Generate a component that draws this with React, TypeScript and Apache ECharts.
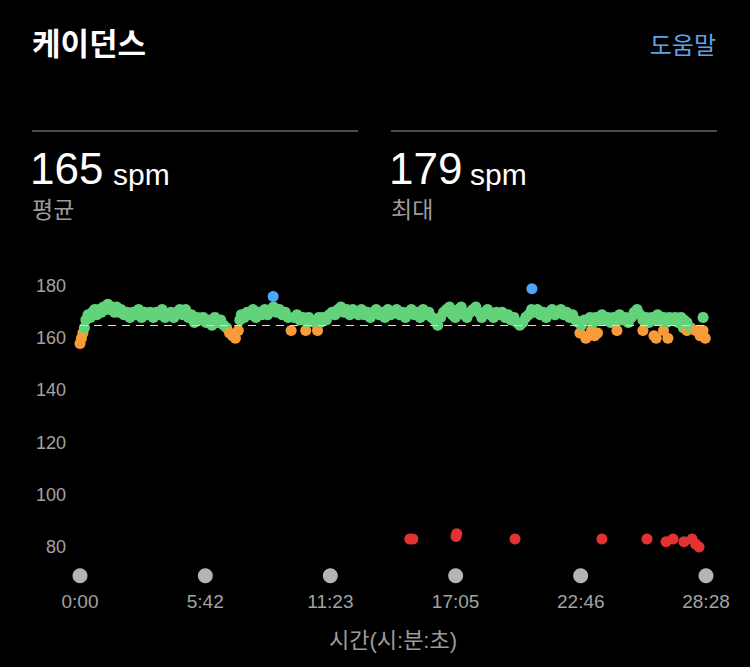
import React, { useEffect, useRef } from "react";
import * as echarts from "echarts";

// ---- Data (seconds elapsed, cadence in spm) ----
const cadenceSamples: [number, number][] = [
  [0, 158], [4, 160], [8, 162], [12, 164], [16, 167], [22, 169], [28, 168], [34, 170], [40, 171], [46, 169],
  [52, 171], [58, 170], [64, 172], [70, 171], [76, 173], [82, 171], [88, 172], [94, 170], [100, 172], [106, 170],
  [112, 171], [120, 169], [128, 170], [136, 168], [144, 170], [152, 169], [160, 171], [168, 168], [176, 170],
  [184, 169], [192, 170], [200, 168], [208, 170], [216, 169], [224, 171], [232, 168], [240, 169], [248, 170],
  [256, 168], [264, 170], [272, 171], [280, 169], [288, 171], [296, 168],
  [304, 169], [312, 166], [320, 168], [328, 167], [336, 168], [344, 166], [352, 167], [360, 165], [368, 168],
  [376, 166], [384, 167], [392, 165],
  [400, 164], [408, 162], [416, 161], [424, 160], [432, 163],
  [436, 167], [440, 169], [448, 168], [456, 170], [464, 169], [472, 171], [480, 168], [488, 170], [496, 169],
  [504, 171], [512, 169], [520, 171], [528, 172], [536, 170], [544, 171], [552, 169], [560, 170], [568, 168],
  [576, 163], [584, 168], [592, 169], [600, 167], [608, 168], [616, 163], [620, 166], [624, 168], [632, 167],
  [640, 166], [648, 163], [652, 168], [656, 166], [664, 168], [672, 167], [680, 169],
  [688, 170], [696, 169], [704, 171], [712, 172], [720, 170],
  [728, 171], [736, 169], [744, 171], [752, 170], [760, 169], [768, 171], [776, 169], [784, 170], [792, 168],
  [800, 170], [808, 171], [816, 169], [824, 170], [832, 168], [840, 171], [848, 169], [856, 170], [864, 171], [872, 169],
  [880, 170], [888, 168], [896, 170], [904, 171], [912, 169], [920, 170], [928, 168], [936, 171], [944, 169],
  [952, 170], [960, 168], [968, 167], [976, 165], [984, 168], [992, 170], [1000, 171], [1008, 172], [1016, 169],
  [1024, 168], [1032, 171], [1040, 172], [1048, 169], [1056, 168], [1064, 170], [1072, 171], [1080, 172],
  [1088, 170], [1096, 168], [1104, 170], [1112, 171], [1120, 169], [1128, 168], [1136, 170], [1144, 169],
  [1152, 170], [1160, 168], [1168, 169], [1176, 167], [1184, 168], [1192, 166], [1200, 165], [1208, 166],
  [1216, 168], [1224, 169], [1232, 171], [1240, 170], [1248, 171], [1256, 169], [1264, 170], [1272, 168],
  [1280, 170], [1288, 171], [1296, 169], [1304, 170], [1312, 171], [1320, 169], [1328, 170], [1336, 168],
  [1344, 169], [1352, 167], [1360, 166], [1364, 162], [1368, 165], [1376, 167], [1380, 160], [1388, 161],
  [1396, 163], [1404, 161], [1412, 162],
  [1392, 168], [1400, 166], [1408, 168], [1416, 167], [1424, 169], [1432, 167], [1440, 168], [1448, 166],
  [1456, 168], [1465, 163], [1464, 167], [1472, 169], [1480, 167], [1488, 168], [1496, 166], [1504, 168],
  [1512, 170], [1520, 171], [1528, 169], [1536, 163], [1536, 167], [1544, 168], [1552, 166], [1566, 161],
  [1560, 168], [1572, 160], [1568, 167], [1576, 169], [1584, 167], [1592, 163], [1592, 168], [1600, 166],
  [1604, 160], [1608, 168], [1616, 167], [1624, 168], [1632, 166], [1640, 168], [1646, 164], [1648, 167],
  [1656, 163], [1656, 166], [1666, 164], [1680, 163], [1692, 161], [1700, 163], [1700, 168], [1706, 160],
];

// spikes above the band
const peakSamples: [number, number][] = [
  [527, 176],
  [1233, 179],
];

// walking / stopped samples
const pauseSamples: [number, number][] = [
  [900, 83], [908, 83], [1026, 84], [1028, 85], [1187, 83], [1424, 83], [1547, 83],
  [1599, 82], [1618, 83], [1648, 82], [1670, 83], [1680, 81], [1689, 80],
];

const durationSeconds = 1708;
const tickSeconds = [0, 342, 683, 1025, 1366, 1708];
const averageCadence = 165;
const maxCadence = 179;

const FONT = '"Helvetica Neue", "Liberation Sans", "Noto Sans CJK KR", sans-serif';

function fmt(sec: number): string {
  const s = Math.round(sec);
  const m = Math.floor(s / 60);
  const r = s % 60;
  return m + ":" + (r < 10 ? "0" + r : String(r));
}

export default function App() {
  const ref = useRef<HTMLDivElement>(null);

  useEffect(() => {
    if (!ref.current) return;
    const chart = echarts.init(ref.current, undefined, { renderer: "svg" });

    const text = (t: string, x: number, y: number, size: number, fill: string, extra: any = {}) => ({
      type: "text",
      x,
      y,
      silent: true,
      style: {
        text: t,
        fontSize: size,
        fontFamily: FONT,
        fill,
        textAlign: "left",
        textVerticalAlign: "middle",
        ...extra,
      },
    });

    chart.setOption({
      animation: false,
      backgroundColor: "#000000",
      grid: { left: 80, right: 44, top: 260, bottom: 94 },
      xAxis: {
        type: "value",
        min: 0,
        max: durationSeconds,
        interval: durationSeconds / 5,
        axisLine: { show: false },
        axisTick: { show: false },
        splitLine: { show: false },
        axisLabel: {
          color: "#a3a3a3",
          fontSize: 19,
          fontFamily: FONT,
          margin: 19,
          formatter: (v: number) => fmt(v),
        },
      },
      yAxis: {
        type: "value",
        min: 70,
        max: 190,
        interval: 10,
        axisLine: { show: false },
        axisTick: { show: false },
        splitLine: { show: false },
        axisLabel: {
          color: "#a3a3a3",
          fontSize: 18,
          fontFamily: FONT,
          margin: 14,
          formatter: (v: number) => (v % 20 === 0 && v >= 80 && v <= 180 ? String(v) : ""),
        },
      },
      visualMap: {
        type: "piecewise",
        show: false,
        dimension: 1,
        seriesIndex: [0],
        pieces: [
          { max: 152.5, color: "#e23232" },
          { min: 152.5, max: 163.5, color: "#f89c3a" },
          { min: 163.5, max: 173.5, color: "#63d37b" },
          { min: 173.5, max: 183.5, color: "#4fa5f7" },
          { min: 183.5, color: "#b06ae0" },
        ],
      },
      graphic: [
        text("케이던스", 32, 44, 31, "#ffffff", { fontWeight: "bold" }),
        text("도움말", 716, 45, 24, "#5ea3e8", { textAlign: "right" }),
        { type: "line", silent: true, shape: { x1: 32, y1: 131, x2: 358, y2: 131 }, style: { stroke: "#4d4d4d", lineWidth: 2 } },
        { type: "line", silent: true, shape: { x1: 391, y1: 131, x2: 717, y2: 131 }, style: { stroke: "#4d4d4d", lineWidth: 2 } },
        text(String(averageCadence), 30, 168, 44, "#ffffff"),
        text("spm", 113, 174, 30, "#ffffff"),
        text("평균", 32, 210, 23, "#9c9c9c"),
        text(String(maxCadence), 389, 168, 44, "#ffffff"),
        text("spm", 470, 174, 30, "#ffffff"),
        text("최대", 391, 210, 23, "#9c9c9c"),
        text("시간(시:분:초)", 393, 640, 22, "#9c9c9c", { textAlign: "center" }),
      ],
      series: [
        {
          type: "scatter",
          symbolSize: 11,
          itemStyle: { opacity: 1 },
          data: [...cadenceSamples, ...peakSamples, ...pauseSamples],
          silent: true,
        },
        {
          type: "scatter",
          symbolSize: 15,
          clip: false,
          silent: true,
          itemStyle: { color: "#b4b4b4", opacity: 1 },
          data: tickSeconds.map((t) => [t, 68.9]),
          markLine: {
            silent: true,
            symbol: ["none", "none"],
            label: { show: false },
            lineStyle: { color: "#dddddd", type: [8, 6], width: 1.2 },
            data: [{ yAxis: averageCadence }],
          },
        },
      ],
    });

    return () => chart.dispose();
  }, []);

  return (
    <div
      ref={ref}
      style={{ position: "fixed", left: 0, top: 0, width: 750, height: 667, background: "#000" }}
    />
  );
}
